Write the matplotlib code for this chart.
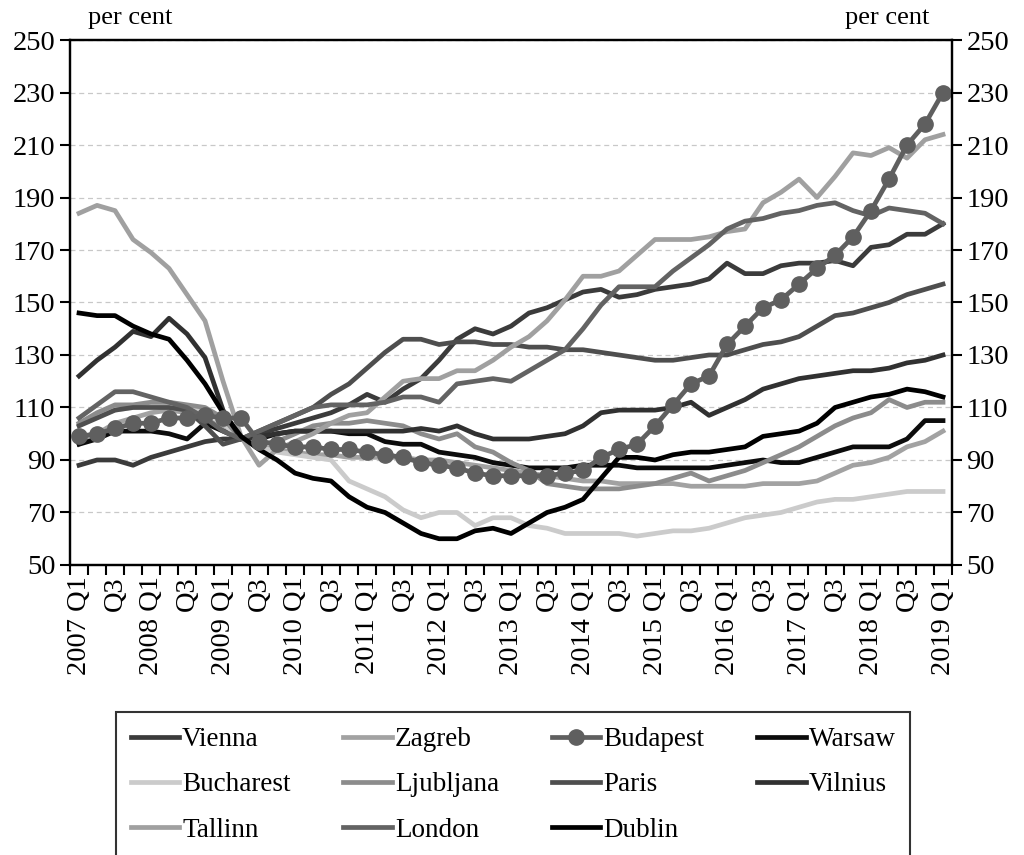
import numpy as np
import matplotlib
matplotlib.use('Agg')
import matplotlib.pyplot as plt

plt.rcParams['font.family'] = ['Liberation Serif', 'DejaVu Serif']

# quarters 2007 Q1 .. 2019 Q1
quarters = [f"{y} Q{q}" for y in range(2007, 2020) for q in range(1, 5)][:49]
tick_labels = [lab if lab.endswith('Q1') else 'Q3' for lab in quarters[::2]]

vienna = [88, 90, 90, 88, 91, 93, 95, 97, 98, 98,
          100, 102, 104, 106, 108, 111, 115, 112, 117, 121,
          128, 136, 140, 138, 141, 146, 148, 151, 154, 155,
          152, 153, 155, 156, 157, 159, 165, 161, 161, 164,
          165, 165, 166, 164, 171, 172, 176, 176, 180]
zagreb = [96, 100, 104, 106, 108, 109, 108, 106, 102, 98,
          95, 94, 93, 92, 92, 91, 91, 91, 91, 90,
          90, 89, 88, 87, 86, 85, 84, 83, 82, 82,
          81, 81, 81, 81, 80, 80, 80, 80, 81, 81,
          81, 82, 85, 88, 89, 91, 95, 97, 101]
budapest = [99, 100, 102, 104, 104, 106, 106, 107, 106, 106,
            97, 96, 95, 95, 94, 94, 93, 92, 91, 89,
            88, 87, 85, 84, 84, 84, 84, 85, 86, 91,
            94, 96, 103, 111, 119, 122, 134, 141, 148, 151,
            157, 163, 168, 175, 185, 197, 210, 218, 230]
warsaw = [96, 98, 101, 101, 101, 100, 98, 104, 101, 98,
          98, 100, 101, 101, 101, 100, 100, 97, 96, 96,
          93, 92, 91, 89, 88, 87, 87, 87, 88, 88,
          88, 87, 87, 87, 87, 87, 88, 89, 90, 89,
          89, 91, 93, 95, 95, 95, 98, 105, 105]
bucharest = [104, 107, 109, 110, 111, 111, 110, 108, 104, 98,
             95, 93, 92, 91, 90, 82, 79, 76, 71, 68,
             70, 70, 65, 68, 68, 65, 64, 62, 62, 62,
             62, 61, 62, 63, 63, 64, 66, 68, 69, 70,
             72, 74, 75, 75, 76, 77, 78, 78, 78]
ljubljana = [104, 108, 111, 111, 112, 112, 111, 110, 106, 98,
             96, 97, 100, 103, 104, 104, 105, 104, 103, 100,
             98, 100, 95, 93, 89, 86, 81, 80, 79, 79,
             79, 80, 81, 83, 85, 82, 84, 86, 89, 92,
             95, 99, 103, 106, 108, 113, 110, 112, 112]
paris = [103, 106, 109, 110, 110, 110, 109, 103, 96, 98,
         101, 104, 107, 110, 115, 119, 125, 131, 136, 136,
         134, 135, 135, 134, 134, 133, 133, 132, 132, 131,
         130, 129, 128, 128, 129, 130, 130, 132, 134, 135,
         137, 141, 145, 146, 148, 150, 153, 155, 157]
vilnius = [122, 128, 133, 139, 137, 144, 138, 129, 109, 98,
           99, 100, 101, 101, 101, 101, 101, 101, 101, 102,
           101, 103, 100, 98, 98, 98, 99, 100, 103, 108,
           109, 109, 109, 110, 112, 107, 110, 113, 117, 119,
           121, 122, 123, 124, 124, 125, 127, 128, 130]
tallinn = [184, 187, 185, 174, 169, 163, 153, 143, 120, 99,
           88, 94, 97, 100, 104, 107, 108, 114, 120, 121,
           121, 124, 124, 128, 133, 137, 143, 151, 160, 160,
           162, 168, 174, 174, 174, 175, 177, 178, 188, 192,
           197, 190, 198, 207, 206, 209, 205, 212, 214]
london = [106, 111, 116, 116, 114, 112, 110, 106, 101, 98,
          101, 104, 107, 110, 111, 111, 111, 112, 114, 114,
          112, 119, 120, 121, 120, 124, 128, 132, 140, 149,
          156, 156, 156, 162, 167, 172, 178, 181, 182, 184,
          185, 187, 188, 185, 183, 186, 185, 184, 180]
dublin = [146, 145, 145, 141, 138, 136, 128, 119, 108, 99,
          94, 90, 85, 83, 82, 76, 72, 70, 66, 62,
          60, 60, 63, 64, 62, 66, 70, 72, 75, 83,
          91, 91, 90, 92, 93, 93, 94, 95, 99, 100,
          101, 104, 110, 112, 114, 115, 117, 116, 114]

series = [
    ('Vienna', vienna, '#3b3b3b'),
    ('Zagreb', zagreb, '#a2a2a2'),
    ('Budapest', budapest, '#5f5f5f'),
    ('Warsaw', warsaw, '#0c0c0c'),
    ('Bucharest', bucharest, '#cbcbcb'),
    ('Ljubljana', ljubljana, '#8c8c8c'),
    ('Paris', paris, '#4e4e4e'),
    ('Vilnius', vilnius, '#313131'),
    ('Tallinn', tallinn, '#a0a0a0'),
    ('London', london, '#636363'),
    ('Dublin', dublin, '#000000'),
]

fig = plt.figure(figsize=(10.24, 8.55), dpi=100)
ax = fig.add_axes([0.0684, 0.3392, 0.8613, 0.6140])
x = np.arange(len(quarters))

handles = {}
for name, vals, col in series:
    if name == 'Budapest':
        h, = ax.plot(x, vals, color=col, lw=3.4, marker='o', markersize=11,
                     label=name, zorder=4)
    else:
        h, = ax.plot(x, vals, color=col, lw=3.4, label=name, zorder=3)
    handles[name] = h

ax.set_xlim(-0.5, len(quarters) - 0.5)
ax.set_ylim(50, 250)
yticks = np.arange(50, 251, 20)
ax.set_yticks(yticks)
ax.yaxis.grid(True, color='#c8c8c8', linestyle=(0, (4, 3)), lw=0.9)
ax.set_axisbelow(True)

ax.set_xticks(x[::2])
ax.set_xticklabels(tick_labels, rotation=90, fontsize=20.5)
ax.set_xticks(np.arange(-0.5, len(quarters), 1), minor=True)
ax.tick_params(axis='x', which='major', length=0, pad=8)
ax.tick_params(axis='x', which='minor', length=7, width=1.5, direction='out')
ax.tick_params(axis='y', length=7, width=1.5, direction='out', labelsize=20.5)

ax2 = ax.twinx()
ax2.set_ylim(50, 250)
ax2.set_yticks(yticks)
ax2.tick_params(axis='y', length=7, width=1.5, direction='out', labelsize=20.5)

for a in (ax, ax2):
    for s in a.spines.values():
        s.set_linewidth(1.6)

fig.text(0.086, 0.979, 'per cent', fontsize=19, va='center', ha='left')
fig.text(0.908, 0.979, 'per cent', fontsize=19, va='center', ha='right')

# legend filled column-wise, so reorder to get the row layout
order = ['Vienna', 'Bucharest', 'Tallinn',
         'Zagreb', 'Ljubljana', 'London',
         'Budapest', 'Paris', 'Dublin',
         'Warsaw', 'Vilnius']
leg = fig.legend([handles[n] for n in order], order, loc='upper center',
                 bbox_to_anchor=(0.501, 0.167), borderaxespad=0, ncol=4,
                 fontsize=19.5, frameon=True, fancybox=False, edgecolor='black',
                 handlelength=1.8, handletextpad=0.1, columnspacing=1.95,
                 borderpad=0.55, labelspacing=0.75)
leg.get_frame().set_linewidth(1.5)

fig.savefig('out.png', dpi=100)
